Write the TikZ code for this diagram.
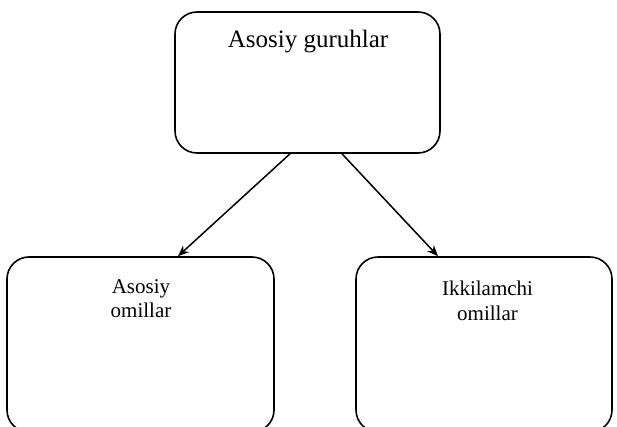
\documentclass[tikz,border=0pt]{standalone}
\usepackage{fontspec}
\setmainfont{Liberation Serif}
\usetikzlibrary{arrows.meta}
\begin{document}
\begin{tikzpicture}[x=1pt,y=-1pt,
  box/.style={draw, line width=1.6pt, rounded corners=22pt, inner sep=0pt},
  lbl/.style={anchor=base, inner sep=0pt, font=\fontsize{21}{24}\selectfont},
  conn/.style={line width=1.5pt, -{Stealth[length=11pt,width=9pt]}}]
\useasboundingbox (0,0) rectangle (617,427);
\clip (0,0) rectangle (617,427);
\fill[white] (0,0) rectangle (617,427);
\node[box, minimum width=265pt, minimum height=141pt] (top) at (307.5,82.5) {};
\node[box, minimum width=267pt, minimum height=175pt] (left) at (140.5,344.5) {};
\node[box, minimum width=256pt, minimum height=175pt] (right) at (484,344.5) {};
\node[lbl, font=\fontsize{25}{28}\selectfont] (ttop) at (308,48) {Asosiy guruhlar};
\node[lbl] (tl1) at (141,293) {Asosiy};
\node[lbl] (tl2) at (141,317) {omillar};
\node[lbl] (tr1) at (487.5,295) {Ikkilamchi};
\node[lbl] (tr2) at (487.5,320) {omillar};
\draw[conn] ([xshift=-17.5pt]top.south) -- ([xshift=37.5pt]left.north);
\draw[conn] ([xshift=34.5pt]top.south) -- ([xshift=-46pt]right.north);
\end{tikzpicture}
\end{document}
